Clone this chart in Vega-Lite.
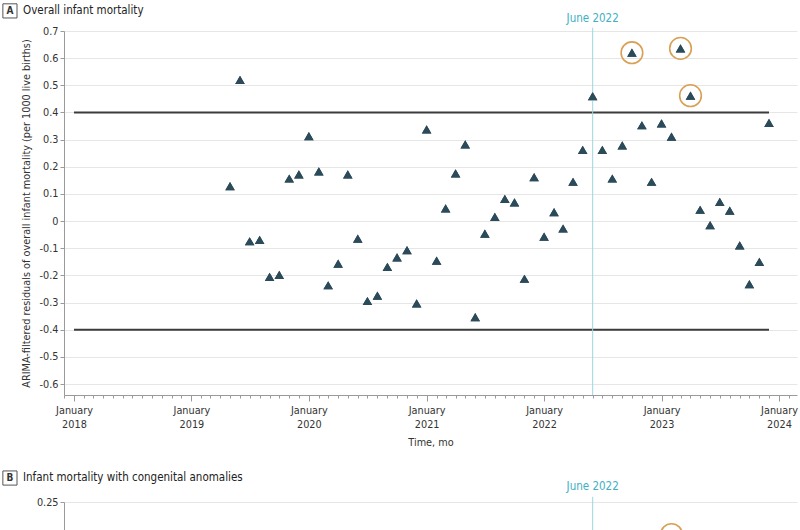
{
  "$schema": "https://vega.github.io/schema/vega-lite/v6.json",
  "background": "white",
  "padding": {"left": 0, "top": 1, "right": 3, "bottom": 0},
  "spacing": 20,
  "config": {
    "font": "Liberation Sans Narrow, DejaVu Sans Condensed, Roboto, sans-serif",
    "view": {"stroke": null},
    "axis": {
      "labelFontSize": 10.8,
      "labelColor": "#333",
      "titleFontSize": 10.8,
      "titleFontWeight": "normal",
      "titleColor": "#333",
      "domainColor": "#9a9a9a",
      "tickColor": "#9a9a9a",
      "gridColor": "#e6e6e6"
    },
    "title": {"fontSize": 11.5, "fontWeight": "normal", "color": "#222", "anchor": "start", "frame": "group"}
  },
  "datasets": {
    "overall": [
      {"date": "2019-05-01", "value": 0.129, "outlier": false},
      {"date": "2019-06-01", "value": 0.520, "outlier": false},
      {"date": "2019-07-01", "value": -0.074, "outlier": false},
      {"date": "2019-08-01", "value": -0.069, "outlier": false},
      {"date": "2019-09-01", "value": -0.205, "outlier": false},
      {"date": "2019-10-01", "value": -0.198, "outlier": false},
      {"date": "2019-11-01", "value": 0.157, "outlier": false},
      {"date": "2019-12-01", "value": 0.172, "outlier": false},
      {"date": "2020-01-01", "value": 0.313, "outlier": false},
      {"date": "2020-02-01", "value": 0.183, "outlier": false},
      {"date": "2020-03-01", "value": -0.236, "outlier": false},
      {"date": "2020-04-01", "value": -0.156, "outlier": false},
      {"date": "2020-05-01", "value": 0.172, "outlier": false},
      {"date": "2020-06-01", "value": -0.064, "outlier": false},
      {"date": "2020-07-01", "value": -0.294, "outlier": false},
      {"date": "2020-08-01", "value": -0.274, "outlier": false},
      {"date": "2020-09-01", "value": -0.168, "outlier": false},
      {"date": "2020-10-01", "value": -0.133, "outlier": false},
      {"date": "2020-11-01", "value": -0.107, "outlier": false},
      {"date": "2020-12-01", "value": -0.303, "outlier": false},
      {"date": "2021-01-01", "value": 0.338, "outlier": false},
      {"date": "2021-02-01", "value": -0.145, "outlier": false},
      {"date": "2021-03-01", "value": 0.047, "outlier": false},
      {"date": "2021-04-01", "value": 0.176, "outlier": false},
      {"date": "2021-05-01", "value": 0.283, "outlier": false},
      {"date": "2021-06-01", "value": -0.353, "outlier": false},
      {"date": "2021-07-01", "value": -0.046, "outlier": false},
      {"date": "2021-08-01", "value": 0.016, "outlier": false},
      {"date": "2021-09-01", "value": 0.082, "outlier": false},
      {"date": "2021-10-01", "value": 0.069, "outlier": false},
      {"date": "2021-11-01", "value": -0.212, "outlier": false},
      {"date": "2021-12-01", "value": 0.162, "outlier": false},
      {"date": "2022-01-01", "value": -0.057, "outlier": false},
      {"date": "2022-02-01", "value": 0.033, "outlier": false},
      {"date": "2022-03-01", "value": -0.027, "outlier": false},
      {"date": "2022-04-01", "value": 0.145, "outlier": false},
      {"date": "2022-05-01", "value": 0.262, "outlier": false},
      {"date": "2022-06-01", "value": 0.460, "outlier": false},
      {"date": "2022-07-01", "value": 0.262, "outlier": false},
      {"date": "2022-08-01", "value": 0.157, "outlier": false},
      {"date": "2022-09-01", "value": 0.279, "outlier": false},
      {"date": "2022-10-01", "value": 0.620, "outlier": true},
      {"date": "2022-11-01", "value": 0.353, "outlier": false},
      {"date": "2022-12-01", "value": 0.145, "outlier": false},
      {"date": "2023-01-01", "value": 0.360, "outlier": false},
      {"date": "2023-02-01", "value": 0.311, "outlier": false},
      {"date": "2023-03-01", "value": 0.636, "outlier": true},
      {"date": "2023-04-01", "value": 0.462, "outlier": true},
      {"date": "2023-05-01", "value": 0.042, "outlier": false},
      {"date": "2023-06-01", "value": -0.015, "outlier": false},
      {"date": "2023-07-01", "value": 0.071, "outlier": false},
      {"date": "2023-08-01", "value": 0.039, "outlier": false},
      {"date": "2023-09-01", "value": -0.089, "outlier": false},
      {"date": "2023-10-01", "value": -0.232, "outlier": false},
      {"date": "2023-11-01", "value": -0.150, "outlier": false},
      {"date": "2023-12-01", "value": 0.362, "outlier": false}
    ],
    "congenital": [
      {"date": "2023-02-01", "value": 0.206, "outlier": true}
    ],
    "limitsA": [
      {"start": "2018-01-01", "end": "2023-12-01", "y": 0.4},
      {"start": "2018-01-01", "end": "2023-12-01", "y": -0.4}
    ],
    "event": [{"date": "2022-06-01", "label": "June 2022"}]
  },
  "vconcat": [
    {
      "width": 733,
      "height": 364,
      "title": {"text": "Overall infant mortality", "dx": -41, "offset": -15},
      "layer": [
        {
          "data": {"name": "overall"},
          "mark": {"type": "point", "shape": "triangle-up", "filled": true, "color": "#2b4a5a", "size": 90, "opacity": 1},
          "encoding": {
            "x": {"field": "date", "type": "temporal",
              "scale": {"type": "utc", "domain": [{"year": 2017, "month": 12, "date": 1, "utc": true}, {"year": 2024, "month": 2, "date": 26, "utc": true}]},
              "axis": {
                "title": "Time, mo",
                "tickCount": {"interval": "month", "step": 1},
                "labelExpr": "utcmonth(datum.value) == 0 ? ['January', utcFormat(datum.value, '%Y')] : ''",
                "tickSize": {"condition": {"test": "utcmonth(datum.value) == 0", "value": 6}, "value": 3},
                "labelOverlap": false,
                "labelFlush": false,
                "labelPadding": 3,
                "labelLineHeight": 14,
                "titlePadding": 8,
                "grid": false
              }
            },
            "y": {"field": "value", "type": "quantitative",
              "scale": {"domain": [-0.64, 0.7], "nice": false, "zero": false},
              "axis": {
                "title": "ARIMA-filtered residuals of overall infant mortality (per 1000 live births)",
                "values": [-0.6, -0.5, -0.4, -0.3, -0.2, -0.1, 0, 0.1, 0.2, 0.3, 0.4, 0.5, 0.6, 0.7],
                "tickCount": 14,
                "labelExpr": "toString(datum.value)",
                "labelOverlap": false,
                "grid": true,
                "tickSize": 4,
                "titlePadding": 8
              }
            }
          }
        },
        {
          "data": {"name": "limitsA"},
          "mark": {"type": "rule", "color": "#3c3c3c", "strokeWidth": 2},
          "encoding": {
            "x": {"field": "start", "type": "temporal"},
            "x2": {"field": "end"},
            "y": {"field": "y", "type": "quantitative"}
          }
        },
        {
          "data": {"name": "event"},
          "mark": {"type": "rule", "color": "#9ed8e0", "strokeWidth": 1},
          "encoding": {
            "x": {"field": "date", "type": "temporal"},
            "y": {"datum": 0.712},
            "y2": {"datum": -0.64}
          }
        },
        {
          "data": {"name": "event"},
          "mark": {"type": "text", "color": "#3fb0c2", "fontSize": 11.5, "baseline": "middle", "align": "center"},
          "encoding": {
            "x": {"field": "date", "type": "temporal"},
            "y": {"datum": 0.745},
            "text": {"field": "label"}
          }
        },
        {
          "data": {"name": "overall"},
          "mark": {"type": "point", "shape": "triangle-up", "filled": true, "color": "#2b4a5a", "size": 90, "opacity": 1},
          "encoding": {
            "x": {"field": "date", "type": "temporal"},
            "y": {"field": "value", "type": "quantitative"}
          }
        },
        {
          "data": {"name": "overall"},
          "transform": [{"filter": "datum.outlier"}],
          "mark": {"type": "point", "shape": "circle", "filled": false, "color": "#d9a055", "size": 470, "strokeWidth": 1.6, "opacity": 1},
          "encoding": {
            "x": {"field": "date", "type": "temporal"},
            "y": {"field": "value", "type": "quantitative"}
          }
        },
        {
          "data": {"values": [{"panel": "A"}]},
          "mark": {"type": "point", "shape": "square", "filled": false, "color": "#555", "size": 200, "strokeWidth": 1, "opacity": 1},
          "encoding": {
            "x": {"datum": {"year": 2017, "month": 6, "date": 16, "utc": true}},
            "y": {"datum": 0.774}
          }
        },
        {
          "data": {"values": [{"panel": "A"}]},
          "mark": {"type": "text", "fontSize": 10, "fontWeight": "bold", "color": "#333", "baseline": "middle", "align": "center"},
          "encoding": {
            "x": {"datum": {"year": 2017, "month": 6, "date": 16, "utc": true}},
            "y": {"datum": 0.774},
            "text": {"field": "panel"}
          }
        }
      ]
    },
    {
      "width": 733,
      "height": 370,
      "title": {"text": "Infant mortality with congenital anomalies", "dx": -41, "offset": -15},
      "layer": [
        {
          "data": {"name": "congenital"},
          "mark": {"type": "point", "shape": "triangle-up", "filled": true, "color": "#2b4a5a", "size": 90, "opacity": 1},
          "encoding": {
            "x": {"field": "date", "type": "temporal",
              "scale": {"type": "utc", "domain": [{"year": 2017, "month": 12, "date": 1, "utc": true}, {"year": 2024, "month": 2, "date": 26, "utc": true}]},
              "axis": {
                "title": "Time, mo",
                "tickCount": {"interval": "month", "step": 1},
                "labelExpr": "utcmonth(datum.value) == 0 ? ['January', utcFormat(datum.value, '%Y')] : ''",
                "tickSize": {"condition": {"test": "utcmonth(datum.value) == 0", "value": 6}, "value": 3},
                "labelOverlap": false,
                "labelFlush": false,
                "grid": false
              }
            },
            "y": {"field": "value", "type": "quantitative",
              "scale": {"domain": [-0.25, 0.25], "nice": false, "zero": false},
              "axis": {
                "title": null,
                "values": [-0.25, -0.2, -0.15, -0.1, -0.05, 0, 0.05, 0.1, 0.15, 0.2, 0.25],
                "labelExpr": "toString(datum.value)",
                "labelOverlap": false,
                "grid": true,
                "tickSize": 4
              }
            }
          }
        },
        {
          "data": {"name": "event"},
          "mark": {"type": "rule", "color": "#9ed8e0", "strokeWidth": 1},
          "encoding": {
            "x": {"field": "date", "type": "temporal"},
            "y": {"datum": 0.257},
            "y2": {"datum": -0.25}
          }
        },
        {
          "data": {"name": "event"},
          "mark": {"type": "text", "color": "#3fb0c2", "fontSize": 11.5, "baseline": "middle", "align": "center"},
          "encoding": {
            "x": {"field": "date", "type": "temporal"},
            "y": {"datum": 0.27},
            "text": {"field": "label"}
          }
        },
        {
          "data": {"name": "congenital"},
          "transform": [{"filter": "datum.outlier"}],
          "mark": {"type": "point", "shape": "circle", "filled": false, "color": "#d9a055", "size": 470, "strokeWidth": 1.6, "opacity": 1},
          "encoding": {
            "x": {"field": "date", "type": "temporal"},
            "y": {"field": "value", "type": "quantitative"}
          }
        },
        {
          "data": {"values": [{"panel": "B"}]},
          "mark": {"type": "point", "shape": "square", "filled": false, "color": "#555", "size": 200, "strokeWidth": 1, "opacity": 1},
          "encoding": {
            "x": {"datum": {"year": 2017, "month": 6, "date": 16, "utc": true}},
            "y": {"datum": 0.2824}
          }
        },
        {
          "data": {"values": [{"panel": "B"}]},
          "mark": {"type": "text", "fontSize": 10, "fontWeight": "bold", "color": "#333", "baseline": "middle", "align": "center"},
          "encoding": {
            "x": {"datum": {"year": 2017, "month": 6, "date": 16, "utc": true}},
            "y": {"datum": 0.2824},
            "text": {"field": "panel"}
          }
        }
      ]
    }
  ]
}
